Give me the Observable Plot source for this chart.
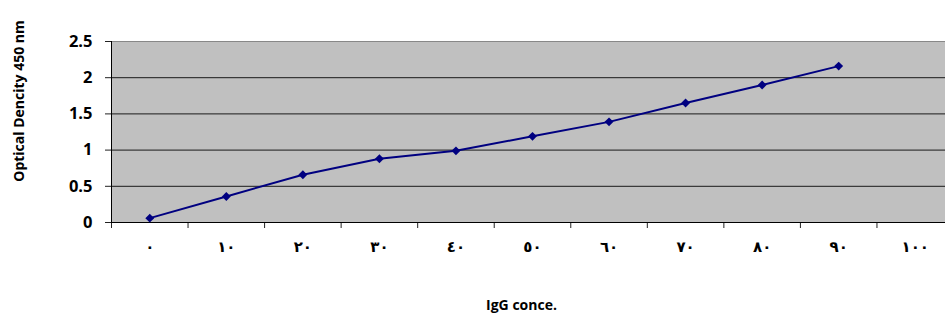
<!DOCTYPE html>
<html>
<head>
<meta charset="utf-8">
<script src="https://cdn.jsdelivr.net/npm/d3@7"></script>
<script src="https://cdn.jsdelivr.net/npm/@observablehq/plot@0.6"></script>
<style>
  html, body { margin: 0; padding: 0; background: #fff; }
  #chart svg { display: block; }
</style>
</head>
<body>
<div id="chart"></div>
<script>
// Categories (IgG concentration) and their Arabic-Indic tick labels
const concentrations = [0, 10, 20, 30, 40, 50, 60, 70, 80, 90, 100];
const categories = ["٠", "١٠", "٢٠", "٣٠", "٤٠", "٥٠", "٦٠", "٧٠", "٨٠", "٩٠", "١٠٠"];
// Optical density readings (no reading at 100)
const odValues = [0.06, 0.36, 0.66, 0.88, 0.99, 1.19, 1.39, 1.65, 1.90, 2.16];
const yTicks = [0, 0.5, 1, 1.5, 2, 2.5];
const yLabel = "Optical Dencity 450 nm";
const xLabel = "IgG conce.";

const data = odValues.map((v, i) => ({conc: concentrations[i], od: v}));
// category boundaries (half a step either side of each category)
const step = concentrations[1] - concentrations[0];
const boundaries = concentrations.map(c => c - step / 2);
const xDomain = [concentrations[0] - step / 2, concentrations[concentrations.length - 1] + step / 2];

const chart = Plot.plot({
  width: 945,
  height: 315,
  marginLeft: 111,
  marginRight: 0,
  marginTop: 41,
  marginBottom: 93,
  style: {fontFamily: "'Open Sans', sans-serif", background: "transparent", overflow: "visible"},
  x: {type: "linear", domain: xDomain, range: [111, 953]},
  y: {domain: [0, 2.5], range: [222, 41]},
  marks: [
    Plot.frame({fill: "#c0c0c0", stroke: "#888888"}),
    Plot.ruleY(yTicks.filter(t => t > 0 && t < 2.5), {stroke: "#1a1a1a", strokeWidth: 1}),
    Plot.axisY(yTicks, {tickSize: 6, tickPadding: 13, fontSize: 16.5, fontWeight: "bold", label: null,
      stroke: "#222", fill: "#000", tickFormat: d => String(d)}),
    Plot.axisX(boundaries, {tickSize: 6, tickFormat: () => "", label: null, stroke: "#222"}),
    Plot.axisX(concentrations, {
      tickSize: 0, tickPadding: 19, label: null, fontSize: 15, fontWeight: "bold",
      fontFamily: "'DejaVu Sans', sans-serif", fill: "#000",
      tickFormat: d => categories[concentrations.indexOf(d)]
    }),
    Plot.ruleX([xDomain[0]], {stroke: "#000", strokeWidth: 1}),
    Plot.ruleY([0], {stroke: "#000", strokeWidth: 1}),
    Plot.line(data, {x: "conc", y: "od", stroke: "#000080", strokeWidth: 2}),
    Plot.dot(data, {x: "conc", y: "od", symbol: "diamond2", r: 4, fill: "#000080", stroke: "none"}),
    Plot.text([yLabel], {text: d => d, frameAnchor: "left", textAnchor: "middle", lineAnchor: "middle",
      rotate: -90, dx: -92, dy: -31,
      fontSize: 14, fontWeight: "bold", fill: "#000", style: "letter-spacing:0.5px"}),
    Plot.text([xLabel], {text: d => d, frameAnchor: "bottom", textAnchor: "middle", lineAnchor: "middle",
      dx: -7, dy: 83, fontSize: 14, fontWeight: "bold", fill: "#000"})
  ]
});
document.getElementById("chart").appendChild(chart);
</script>
</body>
</html>
